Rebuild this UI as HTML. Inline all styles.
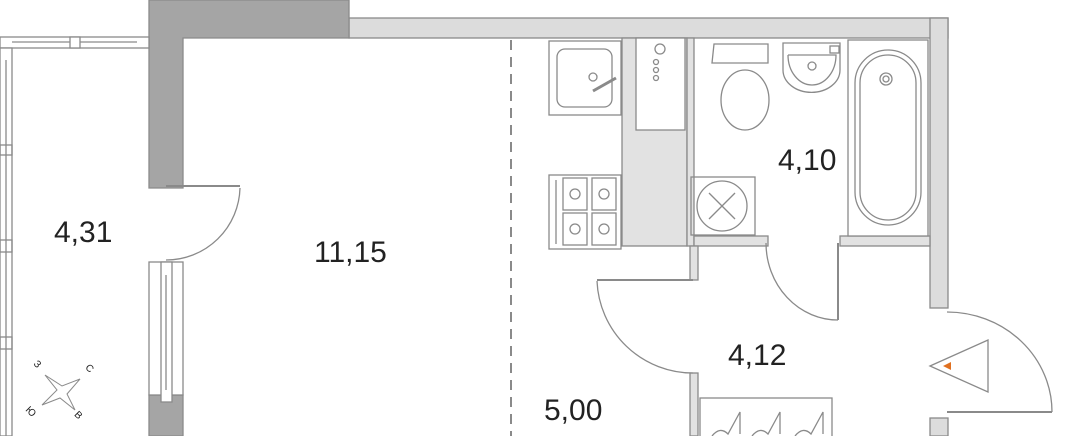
<!DOCTYPE html>
<html><head><meta charset="utf-8"><style>
html,body{margin:0;padding:0;background:#fff;}
svg{display:block}
text{font-family:"Liberation Sans",sans-serif;fill:#222;}
</style></head><body>
<svg width="1065" height="436" viewBox="0 0 1065 436" xmlns="http://www.w3.org/2000/svg">
<g stroke="#8a8a8a" stroke-width="1.3" fill="none">
<!-- light top wall -->
<rect x="349" y="18" width="599" height="20" fill="#dcdcdc"/>
<rect x="930" y="18" width="18" height="290" fill="#dcdcdc"/>
<rect x="930" y="418" width="18" height="18" fill="#dcdcdc"/>
<!-- dark walls -->
<path d="M149 0 H349 V38 H183 V188 H149 Z" fill="#a5a5a5"/>
<rect x="149" y="395" width="34" height="41" fill="#a5a5a5"/>
<!-- window lower -->
<rect x="149" y="262" width="34" height="133" fill="#fff"/>
<rect x="161" y="262" width="11" height="140" fill="#fff"/>
<line x1="166" y1="275" x2="166" y2="390"/>
<!-- balcony rails -->
<rect x="0" y="37" width="149" height="11" fill="#fff"/>
<line x1="12" y1="42" x2="137" y2="42"/>
<rect x="70" y="37" width="10" height="11" fill="#fff"/>
<rect x="0" y="48" width="12" height="388" fill="#fff"/>
<line x1="6" y1="60" x2="6" y2="436"/>
<rect x="0" y="145" width="12" height="10"/>
<rect x="0" y="240" width="12" height="12"/>
<rect x="0" y="337" width="12" height="12"/>
<!-- left door -->
<line x1="166" y1="186" x2="240" y2="186" stroke-width="2"/>
<path d="M240 188 A74 74 0 0 1 166 260"/>
<!-- dashed -->
<line x1="511" y1="40" x2="511" y2="436" stroke-dasharray="10 7" stroke-width="2"/>
<!-- kitchen zone -->
<rect x="622" y="38" width="65" height="208" fill="#e2e2e2"/>
<rect x="636" y="38" width="49" height="92" fill="#fff"/>
<circle cx="660" cy="49" r="5"/><circle cx="656" cy="62" r="2.5"/><circle cx="656" cy="70" r="2.5"/><circle cx="656" cy="78" r="2.5"/>
<rect x="549" y="41" width="72" height="74" fill="#fff"/>
<rect x="557" y="49" width="55" height="58" rx="8"/>
<circle cx="593" cy="77" r="4"/><line x1="593" y1="91" x2="616" y2="78" stroke-width="3"/>
<rect x="549" y="175" width="72" height="74" fill="#fff"/>
<line x1="556" y1="180" x2="556" y2="244"/>
<rect x="563" y="178" width="24" height="32"/><rect x="592" y="178" width="24" height="32"/>
<rect x="563" y="213" width="24" height="32"/><rect x="592" y="213" width="24" height="32"/>
<circle cx="575" cy="194" r="5"/><circle cx="604" cy="194" r="5"/><circle cx="575" cy="229" r="5"/><circle cx="604" cy="229" r="5"/>
<!-- bathroom walls -->
<rect x="687" y="38" width="7" height="208" fill="#e2e2e2"/>
<rect x="694" y="236" width="74" height="10" fill="#e2e2e2"/>
<rect x="840" y="236" width="90" height="10" fill="#e2e2e2"/>
<rect x="690" y="246" width="8" height="34" fill="#e2e2e2"/>
<rect x="690" y="373" width="8" height="63" fill="#e2e2e2"/>
<!-- washing -->
<rect x="691" y="177" width="64" height="58"/>
<circle cx="722" cy="206" r="25"/>
<line x1="709" y1="193" x2="735" y2="219"/><line x1="735" y1="193" x2="709" y2="219"/>
<!-- toilet -->
<path d="M714 44 H768 V63 H712 Z"/>
<ellipse cx="745" cy="100" rx="24" ry="30"/>
<!-- sink -->
<path d="M783 43 H840 V70 A28 22 0 0 1 783 70 Z"/>
<path d="M788 55 H836 A24 30 0 0 1 788 55"/>
<circle cx="812" cy="66" r="4"/>
<rect x="830" y="46" width="9" height="7"/>
<!-- bath -->
<rect x="848" y="40" width="80" height="196" fill="#fff"/>
<rect x="855" y="50" width="66" height="175" rx="33"/>
<rect x="860" y="55" width="56" height="165" rx="28"/>
<circle cx="886" cy="79" r="6"/><circle cx="886" cy="79" r="3"/>
<!-- bathroom door -->
<line x1="838" y1="243" x2="838" y2="320" stroke-width="2"/>
<path d="M766 243 A72 77 0 0 0 838 320"/>
<!-- kitchen door -->
<line x1="597" y1="280" x2="693" y2="280" stroke-width="2"/>
<path d="M597 281 A96 96 0 0 0 693 373"/>
<!-- entry door -->
<line x1="947" y1="412" x2="1052" y2="412" stroke-width="2"/>
<path d="M947 312 A105 100 0 0 1 1052 412"/>
<!-- triangle -->
<polygon points="930,366 988,340 988,392"/>
<!-- wardrobe -->
<rect x="700" y="398" width="132" height="40"/>
<path d="M712 436 q8 -10 16 -2 l12 -22 v22 M752 436 q8 -10 16 -2 l12 -22 v22 M795 436 q8 -10 16 -2 l12 -22 v22"/>
<!-- compass -->
<path d="M45 375 L62 386 L80 379 L67 394 L75 410 L60 398 L42 405 L57 390 Z" stroke-width="1"/>
</g>
<polygon points="943,366 951,362 951,370" fill="#e07020"/>
<g font-size="10" fill="#888">
<text x="34" y="368" transform="rotate(45 38 365)">З</text>
<text x="86" y="371" transform="rotate(45 89 368)">С</text>
<text x="26" y="414" transform="rotate(45 30 411)">Ю</text>
<text x="75" y="418" transform="rotate(45 78 415)">В</text>
</g>
<g font-size="30">
<text x="54" y="242">4,31</text>
<text x="314" y="262">11,15</text>
<text x="778" y="170">4,10</text>
<text x="728" y="365">4,12</text>
<text x="544" y="420">5,00</text>
</g>
</svg>
</body></html>
